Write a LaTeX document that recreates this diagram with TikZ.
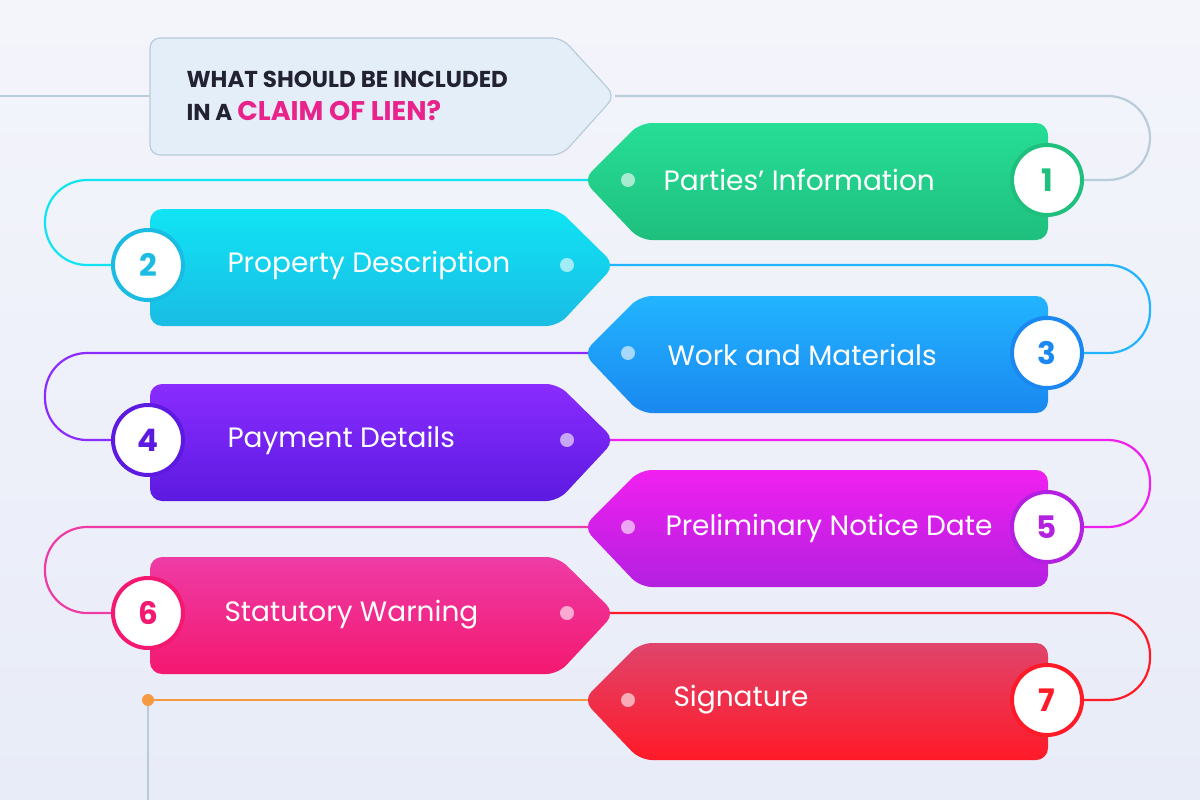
\documentclass[tikz,border=0pt]{standalone}
\usepackage{fontspec}
\setmainfont{Poppins}
\usetikzlibrary{calc}
\begin{document}
\begin{tikzpicture}[x=1pt,y=-1pt,
  lbl/.style={text=white,font=\fontsize{28}{30}\selectfont,anchor=west},
  num/.style={circle,draw=#1,line width=4pt,fill=white,minimum size=70pt,inner sep=0,text=#1,font=\fontsize{31}{31}\selectfont\bfseries},
  dotm/.style={circle,fill=white,fill opacity=0.6,minimum size=14pt,inner sep=0},
  conn/.style={line width=2.2pt,rounded corners=42pt}]
\definecolor{bgA}{HTML}{F4F5FB}\definecolor{bgB}{HTML}{E8ECF8}
\definecolor{cA}{HTML}{26DE96}\definecolor{cAb}{HTML}{1FBF7E}
\definecolor{cB}{HTML}{10E4F4}\definecolor{cBb}{HTML}{1ABCE4}
\definecolor{cC}{HTML}{22B4FF}\definecolor{cCb}{HTML}{1A88F0}
\definecolor{cD}{HTML}{8A2CFF}\definecolor{cDb}{HTML}{5C1AE0}
\definecolor{cE}{HTML}{F020F0}\definecolor{cEb}{HTML}{B420E0}
\definecolor{cF}{HTML}{EE3CA6}\definecolor{cFb}{HTML}{F41870}
\definecolor{cG}{HTML}{E0446C}\definecolor{cGb}{HTML}{FF1A28}
\definecolor{lnT}{HTML}{B8CCDA}\definecolor{lnO}{HTML}{F59A40}
\definecolor{ttl}{HTML}{E4EEF8}\definecolor{txt}{HTML}{222233}\definecolor{pink}{HTML}{E8248C}
\useasboundingbox (0,0) rectangle (1200,800);
\shade[top color=bgA,bottom color=bgB] (0,0) rectangle (1200,800);
% key coordinates
\foreach \i/\y in {1/180,3/353,5/527,7/700}{
  \coordinate (c\i) at (1047,\y); \coordinate (d\i) at (628,\y);}
\foreach \i/\y in {2/265,4/440,6/613}{
  \coordinate (c\i) at (148,\y); \coordinate (d\i) at (567,\y);}
\coordinate (t0) at (0,96); \coordinate (tl) at (150,96); \coordinate (tr) at (615,96);
\coordinate (o) at (148,700); \coordinate (ob) at (148,800);
% connectors
\draw[conn,lnT] (t0) -- (tl);
\draw[conn,lnT] (tr) -| (1150,180) -- (c1);
\draw[conn,cB] (d1) -| (45,265) -- (c2);
\draw[conn,cC] (d2) -| (1150,353) -- (c3);
\draw[conn,cD] (d3) -| (45,440) -- (c4);
\draw[conn,cE] (d4) -| (1150,527) -- (c5);
\draw[conn,cF] (d5) -| (45,613) -- (c6);
\draw[conn,cGb] (d6) -| (1150,700) -- (c7);
\draw[conn,lnO] (d7) -- (o);
\draw[conn,lnT] (o) -- (ob);
\fill[lnO] (o) circle (6pt);
% title
\draw[fill=ttl,draw=lnT,line width=1.2pt,rounded corners=10pt] (150,38) -- (562,38) -- (615,96) -- (562,155) -- (150,155) -- cycle;
\node[anchor=west,align=left,text=txt,font=\fontsize{23}{33}\selectfont\bfseries] (title) at (183,96)
  {WHAT SHOULD BE INCLUDED\\IN A {\color{pink}\fontsize{27}{33}\selectfont CLAIM OF LIEN?}};
% boxes
\foreach \i/\a/\b in {1/cA/cAb,3/cC/cCb,5/cE/cEb,7/cG/cGb}{
  \shade[top color=\a,bottom color=\b,rounded corners=12pt]
   ($(c\i)+(-464,0)$) -- ($(c\i)+(-407,-57)$) -- ($(c\i)+(1,-57)$) -- ($(c\i)+(1,60)$) -- ($(c\i)+(-407,60)$) -- cycle;}
\foreach \i/\a/\b in {2/cB/cBb,4/cD/cDb,6/cF/cFb}{
  \shade[top color=\a,bottom color=\b,rounded corners=12pt]
   ($(c\i)+(2,-56)$) -- ($(c\i)+(410,-56)$) -- ($(c\i)+(467,0)$) -- ($(c\i)+(410,61)$) -- ($(c\i)+(2,61)$) -- cycle;}
% numbers
\node[num=cAb] (n1) at (c1) {1};
\node[num=cBb] (n2) at (c2) {2};
\node[num=cCb] (n3) at (c3) {3};
\node[num=cDb] (n4) at (c4) {4};
\node[num=cEb] (n5) at (c5) {5};
\node[num=cFb] (n6) at (c6) {6};
\node[num=cGb] (n7) at (c7) {7};
\foreach \i in {1,...,7}{\node[dotm] (m\i) at (d\i) {};}
% labels
\node[lbl] (l1) at (660,180) {Parties{\char"0027} Information};
\node[lbl] (l2) at (224,265) {Property Description};
\node[lbl] (l3) at (664,355) {Work and Materials};
\node[lbl] (l4) at (224,440) {Payment Details};
\node[lbl] (l5) at (662,528) {Preliminary Notice Date};
\node[lbl] (l6) at (221,615) {Statutory Warning};
\node[lbl] (l7) at (670,700) {Signature};
\end{tikzpicture}
\end{document}
